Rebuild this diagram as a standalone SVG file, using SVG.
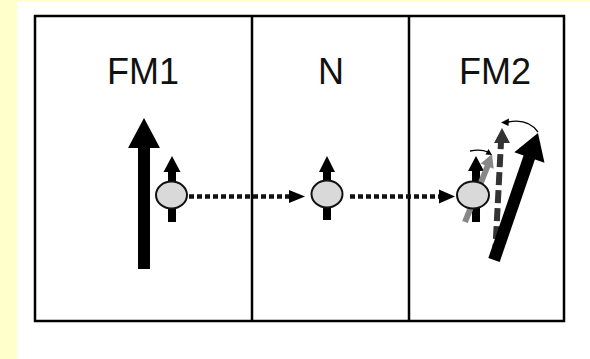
<svg xmlns="http://www.w3.org/2000/svg" width="590" height="359" viewBox="0 0 590 359">
  <style>
    .frame { fill: none; stroke: #000; stroke-width: 2.5; }
    .label { font-family: "Liberation Sans", Arial, sans-serif; font-size: 36px; fill: #111; text-anchor: middle; }
    .dot { fill: #d9d9d9; stroke: #111; stroke-width: 2; }
    .spin { stroke: #000; stroke-width: 8; }
    .head { fill: #000; }
    .flow { stroke: #111; stroke-width: 4.5; stroke-dasharray: 5 3; fill: none; }
    .thin { fill: none; stroke: #000; stroke-width: 1.3; }
  </style>

  <!-- page background -->
  <rect x="0" y="0" width="590" height="359" fill="#ffffcc"/>
  <rect x="17" y="2" width="573" height="357" fill="#ffffff"/>

  <!-- layer outlines -->
  <rect class="frame" x="35" y="16" width="529" height="305"/>
  <line class="frame" x1="252" y1="16" x2="252" y2="321"/>
  <line class="frame" x1="409" y1="16" x2="409" y2="321"/>

  <!-- first ferromagnet -->
  <g id="fm1">
    <text class="label" x="143" y="84">FM1</text>
    <line x1="144" y1="269" x2="144" y2="147" stroke="#000" stroke-width="12"/>
    <polygon class="head" points="144,118 160,148 128,148"/>
    <g id="electron1">
      <line class="spin" x1="172" y1="222" x2="172" y2="170"/>
      <polygon class="head" points="172,156 180.5,172 163.5,172"/>
      <ellipse class="dot" cx="171.5" cy="195" rx="15.5" ry="13.5"/>
    </g>
  </g>

  <!-- normal-metal spacer -->
  <g id="n">
    <text class="label" x="331" y="84">N</text>
    <g id="electron2">
      <line class="spin" x1="327" y1="220" x2="327" y2="170"/>
      <polygon class="head" points="327,156 335,172 319,172"/>
      <ellipse class="dot" cx="327" cy="194" rx="15.5" ry="13.5"/>
    </g>
  </g>

  <!-- second ferromagnet -->
  <g id="fm2">
    <text class="label" x="495" y="84">FM2</text>
    <!-- magnetisation: dashed initial, solid rotated -->
    <line x1="495" y1="257" x2="501" y2="142" stroke="#333" stroke-width="6" stroke-dasharray="13 5"/>
    <polygon fill="#333" points="502,128 510,143 494,143"/>
    <line x1="494" y1="260" x2="529.4" y2="157" stroke="#000" stroke-width="12"/>
    <polygon class="head" points="538,133 544.5,162.8 514.3,152.2"/>
    <path class="thin" d="M538,132 Q528,118 508,122"/>
    <polygon class="head" points="501,122.5 509,118.5 508.5,126"/>
    <g id="electron3">
      <line class="spin" x1="476" y1="222" x2="476" y2="170"/>
      <polygon class="head" points="476,156 484,171 468,171"/>
      <line x1="465" y1="222" x2="488" y2="165" stroke="#888" stroke-width="6"/>
      <polygon fill="#888" points="492,154 493.7,168.7 480.7,163.5"/>
      <path class="thin" d="M470,151 Q481,149 488,152"/>
      <polygon class="head" points="492,155 485.5,154.5 488.5,149"/>
      <ellipse class="dot" cx="473" cy="195" rx="16" ry="13.5"/>
    </g>
  </g>

  <!-- electron transport paths -->
  <g id="connectors">
    <line class="flow" x1="189" y1="196.5" x2="290" y2="196.5"/>
    <polygon class="head" points="305,196.5 289,190 289,203"/>
    <line class="flow" x1="350" y1="196.5" x2="440" y2="196.5"/>
    <polygon class="head" points="455,196.5 439,189.5 439,203.5"/>
  </g>
</svg>
